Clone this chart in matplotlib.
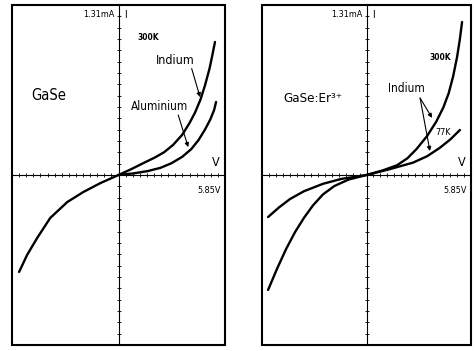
import numpy as np
import matplotlib
matplotlib.use("Agg")
import matplotlib.pyplot as plt
from matplotlib.patches import Rectangle

plt.rcParams['font.family'] = ['DejaVu Sans']
TXT = dict(fontstretch='condensed')

# ---- data (V, mA) ----
V_MAX = 5.85
I_MAX = 1.31

# Left panel: GaSe, 300K
gase_neg_v = [-5.46, -5.02, -4.47, -3.75, -2.81, -1.93, -0.99, 0.0]
gase_neg_i = [-0.747, -0.616, -0.486, -0.331, -0.208, -0.131, -0.062, 0.0]
indium_pos_v = [0.0, 0.70, 1.37, 2.00, 2.50, 3.00, 3.50, 3.90, 4.20, 4.50, 4.75, 5.00, 5.15, 5.30]
indium_pos_i = [0.0, 0.045, 0.092, 0.135, 0.175, 0.232, 0.310, 0.400, 0.480, 0.580, 0.690, 0.820, 0.920, 1.025]
alu_pos_v = [0.0, 0.80, 1.60, 2.30, 2.90, 3.50, 4.00, 4.40, 4.75, 5.05, 5.25, 5.36]
alu_pos_i = [0.0, 0.012, 0.030, 0.055, 0.090, 0.140, 0.200, 0.270, 0.350, 0.430, 0.500, 0.563]

# Right panel: GaSe:Er3+, Indium contacts, 300K and 77K
k300_v = [-5.51, -5.00, -4.50, -4.00, -3.50, -3.00, -2.44, -1.80, -1.00, 0.0,
          0.90, 1.71, 2.30, 2.80, 3.39, 3.90, 4.30, 4.60, 4.85, 5.07, 5.22, 5.35]
k300_i = [-0.886, -0.720, -0.570, -0.440, -0.330, -0.235, -0.150, -0.085, -0.035, 0.0,
          0.035, 0.075, 0.130, 0.200, 0.300, 0.410, 0.520, 0.630, 0.760, 0.909, 1.040, 1.179]
k77_v = [-5.51, -4.90, -4.28, -3.50, -2.44, -1.40, 0.0, 1.30, 2.60, 3.40, 4.11, 4.70, 5.23]
k77_i = [-0.324, -0.250, -0.185, -0.125, -0.068, -0.030, 0.0, 0.045, 0.095, 0.145, 0.210, 0.275, 0.347]

fig = plt.figure(figsize=(4.76, 3.51), dpi=100)

def make_panel(rect):
    ax = fig.add_axes(rect)
    ax.set_xlim(-V_MAX, V_MAX)
    ax.set_ylim(-I_MAX, I_MAX)
    for s in ('top', 'right'):
        ax.spines[s].set_visible(False)
    for s in ('left', 'bottom'):
        ax.spines[s].set_position(('data', 0))
        ax.spines[s].set_linewidth(0.8)
    ax.set_xticks(np.linspace(-V_MAX, V_MAX, 31))
    ax.set_yticks(np.linspace(-I_MAX, I_MAX, 31))
    ax.tick_params(direction='inout', length=3.2, width=0.6, labelbottom=False, labelleft=False)
    ax.add_patch(Rectangle((0, 0), 1, 1, transform=ax.transAxes, fill=False,
                           lw=1.5, ec='black', clip_on=False, zorder=5))
    ax.text(-0.22, 1.233, '1.31mA', ha='right', va='center', fontsize=6.5, **TXT)
    ax.text(0.33, 1.233, 'I', ha='left', va='center', fontsize=7.5, **TXT)
    ax.text(5.32, 0.10, 'V', ha='center', va='center', fontsize=9, **TXT)
    ax.text(4.95, -0.116, '5.85V', ha='center', va='center', fontsize=6.5, **TXT)
    return ax

lw = 1.7
ap = dict(arrowstyle='-|>', lw=0.8, color='black', mutation_scale=6, shrinkA=0, shrinkB=0)

axL = make_panel([12/476, 1 - 345/351, 213/476, 340/351])
axL.plot(gase_neg_v, gase_neg_i, color='black', lw=lw, solid_capstyle='round')
axL.plot(indium_pos_v, indium_pos_i, color='black', lw=lw, solid_capstyle='round')
axL.plot(alu_pos_v, alu_pos_i, color='black', lw=lw, solid_capstyle='round')
axL.text(-3.81, 0.609, 'GaSe', ha='center', va='center', fontsize=10.5, **TXT)
axL.text(1.64, 1.056, '300K', ha='center', va='center', fontsize=6, fontweight='bold', **TXT)
axL.text(3.12, 0.886, 'Indium', ha='center', va='center', fontsize=9, **TXT)
axL.text(2.24, 0.524, 'Aluminium', ha='center', va='center', fontsize=8.5, **TXT)
axL.annotate('', xy=(4.48, 0.600), xytext=(4.02, 0.820), arrowprops=ap)
axL.annotate('', xy=(3.83, 0.215), xytext=(3.28, 0.462), arrowprops=ap)

axR = make_panel([262/476, 1 - 345/351, 209/476, 340/351])
axR.plot(k300_v, k300_i, color='black', lw=lw, solid_capstyle='round')
axR.plot(k77_v, k77_i, color='black', lw=lw, solid_capstyle='round')
axR.text(-3.0, 0.586, 'GaSe:Er³⁺', ha='center', va='center', fontsize=9.5, **TXT)
axR.text(4.11, 0.902, '300K', ha='center', va='center', fontsize=6, fontweight='bold', **TXT)
axR.text(2.21, 0.670, 'Indium', ha='center', va='center', fontsize=8.5, **TXT)
axR.text(4.28, 0.331, '77K', ha='center', va='center', fontsize=6.5, **TXT)
axR.annotate('', xy=(3.67, 0.440), xytext=(3.0, 0.593), arrowprops=ap)
axR.annotate('', xy=(3.55, 0.185), xytext=(3.0, 0.593), arrowprops=ap)

fig.savefig('out.png', dpi=100)
